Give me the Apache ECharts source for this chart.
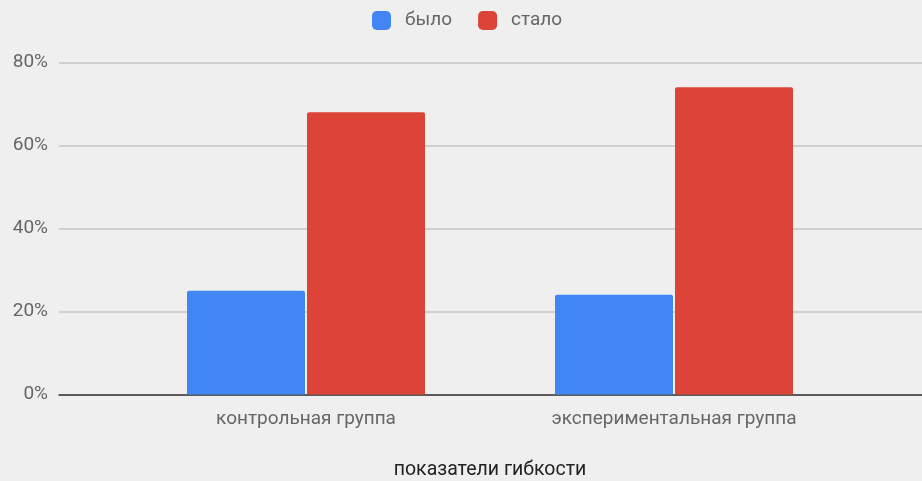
<!DOCTYPE html>
<html>
<head>
<meta charset="utf-8">
<script src="https://cdn.jsdelivr.net/npm/echarts@6/dist/echarts.min.js"></script>
<style>
html,body{margin:0;padding:0;background:#efefef;}
#c{width:922px;height:481px;}
</style>
</head>
<body>
<div id="c"></div>
<script>
const categories = ['контрольная группа', 'экспериментальная группа'];
const seriesNames = ['было', 'стало'];
const wasValues = [25, 24];
const becameValues = [68, 74];
const yTicks = [0, 20, 40, 60, 80];
const xAxisTitle = 'показатели гибкости';

const chart = echarts.init(document.getElementById('c'), null, {renderer: 'canvas'});
const font = 'Roboto, Arial, sans-serif';
const yMin = yTicks[0], yMax = yTicks[yTicks.length - 1], yStep = yTicks[1] - yTicks[0];
chart.setOption({
  backgroundColor: '#efefef',
  animation: false,
  legend: {
    top: 11, left: 372, padding: 0,
    itemWidth: 19, itemHeight: 19, itemGap: 26,
    icon: 'roundRect',
    textStyle: {fontFamily: font, fontSize: 19, color: '#666', padding: [0, 0, 0, 9]},
    data: seriesNames
  },
  grid: [
    {left: 59, right: 0, top: 62.3, bottom: 86.5, containLabel: false, outerBoundsMode: 'none'},
    {left: 122, right: 64, top: 62.3, bottom: 86.5, containLabel: false, outerBoundsMode: 'none'}
  ],
  xAxis: [
    {gridIndex: 0, type: 'value', min: 0, max: 1, show: true,
     axisLine: {show: true, lineStyle: {color: '#333', width: 1.5}},
     axisTick: {show: false}, axisLabel: {show: false}, splitLine: {show: false}},
    {gridIndex: 1, type: 'category', data: categories,
     axisLine: {show: false}, axisTick: {show: false},
     axisLabel: {fontFamily: font, fontSize: 19, color: '#666', margin: 15},
     name: xAxisTitle, nameLocation: 'middle', nameGap: 66,
     nameTextStyle: {fontFamily: font, fontSize: 19.5, color: '#222'}}
  ],
  yAxis: [
    {gridIndex: 0, type: 'value', min: yMin, max: yMax, interval: yStep,
     axisLine: {show: false}, axisTick: {show: false},
     axisLabel: {fontFamily: font, fontSize: 19, color: '#666', margin: 11, formatter: '{value}%'},
     splitLine: {lineStyle: {color: '#c6c6c6', width: 1.5}}},
    {gridIndex: 1, type: 'value', min: yMin, max: yMax, interval: yStep, show: false}
  ],
  series: [
    {name: seriesNames[0], type: 'bar', xAxisIndex: 1, yAxisIndex: 1, data: wasValues,
     barWidth: 118, barGap: '1.7%', itemStyle: {color: '#4285f4', borderRadius: [2, 2, 0, 0]}},
    {name: seriesNames[1], type: 'bar', xAxisIndex: 1, yAxisIndex: 1, data: becameValues,
     barWidth: 118, barGap: '1.7%', itemStyle: {color: '#db4437', borderRadius: [2, 2, 0, 0]}}
  ]
});
</script>
</body>
</html>
